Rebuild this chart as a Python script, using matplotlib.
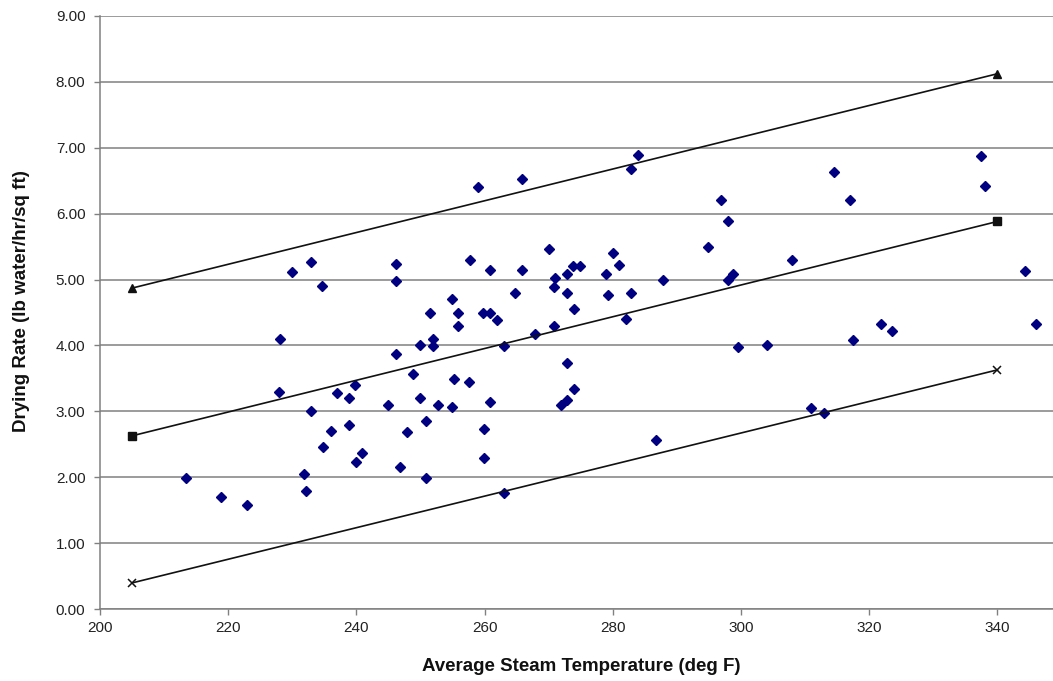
import matplotlib
matplotlib.use("Agg")
import matplotlib.pyplot as plt
from matplotlib.ticker import FormatStrFormatter

plt.rcParams['font.family'] = ['Liberation Sans', 'DejaVu Sans']

# Scatter data: average steam temperature (deg F) and drying rate (lb water/hr/sq ft)
temp = [232.9, 229.95, 234.6, 246.2, 246.2, 251.5, 228.1, 251.9, 249.9, 251.9,
        246.2, 248.9, 239.8, 227.9, 237.0, 238.8, 244.9, 249.9, 252.8, 232.9,
        236.1, 238.8, 250.8, 247.9, 234.8, 240.9, 239.9, 246.8, 213.4, 231.8,
        232.2, 250.8, 218.9, 222.9,
        283.9, 282.9, 265.9, 259.0, 270.0, 257.8, 280.0, 280.9, 278.9, 260.8,
        265.9, 273.8, 274.9, 272.9, 271.0, 270.9, 287.9, 264.8, 272.9, 279.3,
        282.9, 254.9, 255.9, 259.8, 260.8, 261.9, 274.0, 282.0, 255.9, 270.9,
        267.9, 263.0, 272.9, 255.3, 257.6, 273.9, 254.9, 260.8, 271.9, 272.8,
        259.9, 286.7, 259.9, 263.0,
        314.5, 296.9, 317.0, 298.0, 294.9, 308.0, 298.8, 298.0, 299.6, 304.0,
        317.5, 321.8, 337.4, 338.0, 344.3, 323.6, 346.0, 310.9, 313.0]
rate = [5.27, 5.12, 4.90, 5.23, 4.98, 4.50, 4.10, 4.10, 4.00, 3.99,
        3.87, 3.56, 3.40, 3.29, 3.28, 3.20, 3.10, 3.20, 3.10, 3.00,
        2.71, 2.80, 2.86, 2.69, 2.46, 2.37, 2.24, 2.15, 1.99, 2.05,
        1.80, 1.99, 1.70, 1.58,
        6.89, 6.68, 6.53, 6.40, 5.47, 5.30, 5.40, 5.22, 5.08, 5.14,
        5.15, 5.20, 5.20, 5.09, 5.03, 4.89, 4.99, 4.80, 4.80, 4.77,
        4.80, 4.70, 4.50, 4.50, 4.50, 4.38, 4.55, 4.40, 4.30, 4.30,
        4.17, 3.99, 3.74, 3.49, 3.45, 3.34, 3.06, 3.14, 3.09, 3.18,
        2.73, 2.57, 2.30, 1.77,
        6.63, 6.21, 6.21, 5.89, 5.50, 5.30, 5.09, 4.99, 3.98, 4.00,
        4.08, 4.33, 6.88, 6.42, 5.13, 4.22, 4.32, 3.05, 2.98]

# Fit and bound lines (end points)
line_x = [205, 340]
upper_y = [4.87, 8.12]
fit_y = [2.63, 5.88]
lower_y = [0.40, 3.63]

xticks = [200, 220, 240, 260, 280, 300, 320, 340]
yticks = [0, 1, 2, 3, 4, 5, 6, 7, 8, 9]

fig = plt.figure(figsize=(10.53, 6.81), dpi=100)
ax = fig.add_axes([100 / 1053, (681 - 609.3) / 681, (150 * 6.41) / 1053, (609.3 - 15.7) / 681])

ax.set_xlim(200, 350)
ax.set_ylim(0, 9)
ax.set_xticks(xticks)
ax.set_yticks(yticks)
ax.yaxis.set_major_formatter(FormatStrFormatter('%.2f'))

ax.grid(axis='y', color='#808080', linewidth=1.1)
ax.set_axisbelow(True)
for s in ['top', 'right']:
    ax.spines[s].set_visible(False)
for s in ['left', 'bottom']:
    ax.spines[s].set_color('#808080')
    ax.spines[s].set_linewidth(1.1)
ax.tick_params(axis='both', colors='#808080', length=4, width=1, labelsize=11, labelcolor='#222222')
ax.tick_params(axis='y', pad=6.5)
ax.tick_params(axis='x', pad=4.5)

ax.plot(temp, rate, linestyle='none', marker='D', markersize=5.6, color='#000080', zorder=3)

ax.plot(line_x, upper_y, color='#111111', linewidth=1.2, marker='^', markersize=6, zorder=4)
ax.plot(line_x, fit_y, color='#111111', linewidth=1.2, marker='s', markersize=5.5, zorder=4)
ax.plot(line_x, lower_y, color='#111111', linewidth=1.2, marker='x', markersize=6,
        markeredgewidth=1.1, zorder=4)

ax.set_xlabel('Average Steam Temperature (deg F)', fontsize=13.5, fontweight='bold', color='#111111')
ax.set_ylabel('Drying Rate (lb water/hr/sq ft)', fontsize=13.5, fontweight='bold', color='#111111')
ax.xaxis.set_label_coords(0.5, -0.082)
ax.yaxis.set_label_coords(-0.073, 0.52)

fig.savefig('out.png', dpi=100)
